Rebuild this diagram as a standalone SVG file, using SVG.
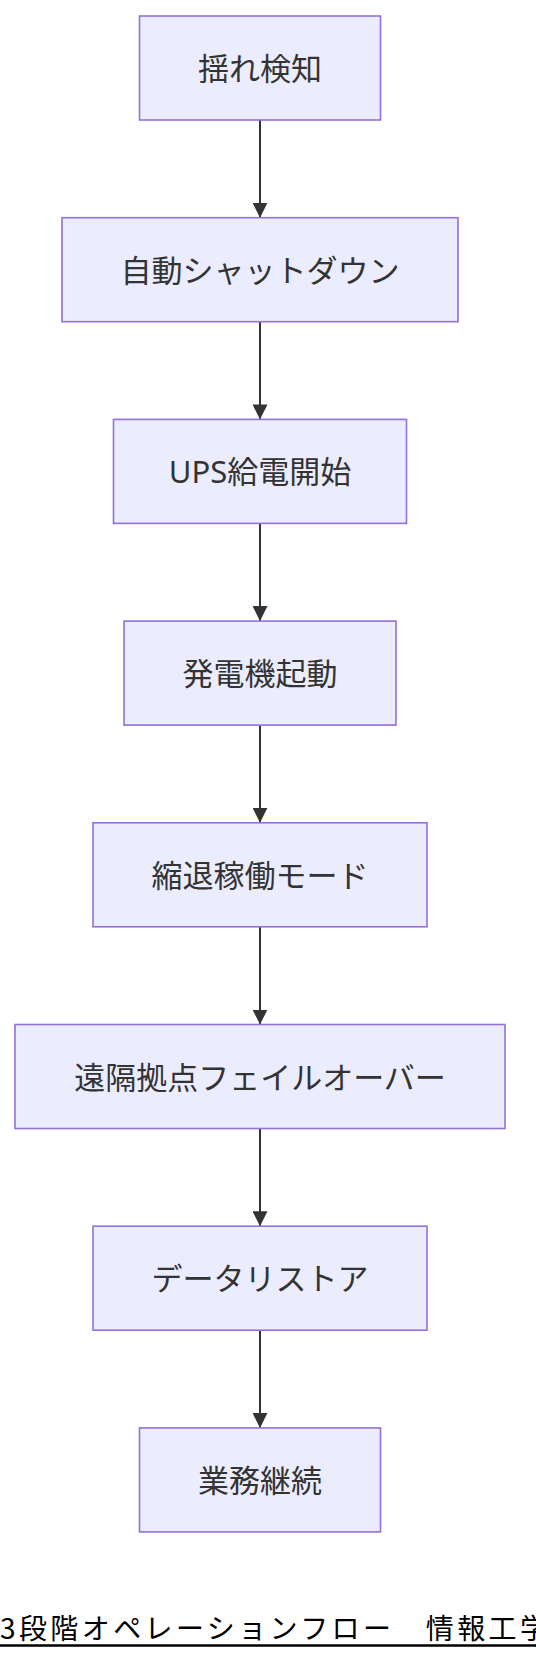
<svg xmlns="http://www.w3.org/2000/svg" width="536" height="1660" viewBox="0 0 536 1660">
<style>
.node rect{fill:#ECECFF;stroke:#9370DB;stroke-width:1.6}
.node text{font-family:"Noto Sans","Noto Sans CJK JP",sans-serif;font-size:31px;fill:#333;text-anchor:middle;dominant-baseline:central}
.edge{stroke:#333;stroke-width:2;fill:none;marker-end:url(#arr)}
.title{font-family:"Noto Sans CJK JP",sans-serif;font-size:28px;fill:#000}
</style>
<defs>
<marker id="arr" viewBox="0 0 10 10" refX="10" refY="5" markerUnits="userSpaceOnUse" markerWidth="15" markerHeight="15" orient="auto">
<path d="M0,0 L10,5 L0,10 z" fill="#333"/>
</marker>
</defs>
<rect width="536" height="1660" fill="#fff"/>
<g id="connectors">
<line class="edge" x1="260" y1="120" x2="260" y2="217.7"/>
<line class="edge" x1="260" y1="321.7" x2="260" y2="419.4"/>
<line class="edge" x1="260" y1="523.4" x2="260" y2="621.1"/>
<line class="edge" x1="260" y1="725.1" x2="260" y2="822.8"/>
<line class="edge" x1="260" y1="926.8" x2="260" y2="1024.5"/>
<line class="edge" x1="260" y1="1128.5" x2="260" y2="1226.2"/>
<line class="edge" x1="260" y1="1330.2" x2="260" y2="1427.9"/>
</g>
<g id="n1" class="node"><rect x="139.5" y="16" width="241" height="104"/><text x="260" y="68">揺れ検知</text></g>
<g id="n2" class="node"><rect x="62" y="217.7" width="396" height="104"/><text x="260" y="269.7">自動シャットダウン</text></g>
<g id="n3" class="node"><rect x="113.5" y="419.4" width="293" height="104"/><text x="260" y="471.4">UPS給電開始</text></g>
<g id="n4" class="node"><rect x="124" y="621.1" width="272" height="104"/><text x="260" y="673.1">発電機起動</text></g>
<g id="n5" class="node"><rect x="93" y="822.8" width="334" height="104"/><text x="260" y="874.8">縮退稼働モード</text></g>
<g id="n6" class="node"><rect x="15" y="1024.5" width="490" height="104"/><text x="260" y="1076.5">遠隔拠点フェイルオーバー</text></g>
<g id="n7" class="node"><rect x="93" y="1226.2" width="334" height="104"/><text x="260" y="1278.2">データリストア</text></g>
<g id="n8" class="node"><rect x="139.5" y="1427.9" width="241" height="104"/><text x="260" y="1479.9">業務継続</text></g>
<g id="title">
<text class="title" x="0" y="1639" textLength="548" lengthAdjust="spacing">3段階オペレーションフロー　情報工学</text>
<line x1="0" y1="1645.5" x2="536" y2="1645.5" stroke="#000" stroke-width="2.4"/>
</g>
</svg>
